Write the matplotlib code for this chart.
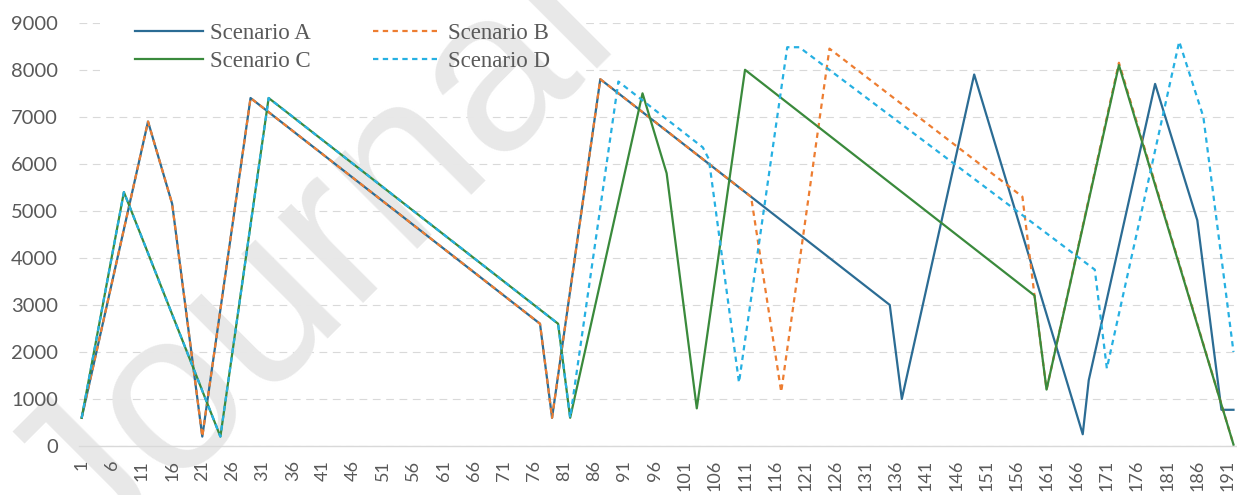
import matplotlib
matplotlib.use("Agg")
import matplotlib.pyplot as plt
from matplotlib.ticker import MultipleLocator
from matplotlib.patches import Rectangle

# breakpoints of each scenario (period, value)
a_x = [1, 12, 16, 21, 29, 77, 79, 87, 135, 137, 149, 167, 168, 179, 186, 190, 192]
a_y = [600, 6900, 5150, 200, 7400, 2600, 600, 7800, 3000, 1000, 7900, 250, 1400, 7700, 4800, 770, 770]

b_x = [1, 12, 16, 21, 29, 77, 79, 87, 112, 117, 125, 157, 159, 161, 173, 192]
b_y = [600, 6900, 5150, 200, 7400, 2600, 600, 7800, 5300, 1150, 8450, 5300, 3200, 1200, 8150, 30]

c_x = [1, 8, 24, 32, 80, 82, 94, 98, 103, 111, 159, 161, 173, 192]
c_y = [600, 5400, 200, 7400, 2600, 600, 7500, 5800, 800, 8000, 3200, 1200, 8100, 30]

d_x = [1, 8, 24, 32, 80, 82, 90, 104, 105, 110, 118, 120, 169, 171, 183, 187, 192]
d_y = [600, 5400, 200, 7400, 2600, 600, 7750, 6350, 6100, 1350, 8480, 8480, 3750, 1650, 8600, 7000, 2000]

n_periods = 192
x_ticks = list(range(1, n_periods + 1, 5))

W, H = 1237, 495
rect = [0.0636, 0.099, 0.9360, 0.855]
fig = plt.figure(figsize=(W / 100, H / 100), dpi=100)

# background layer: dashed grid, with the legend area blanked out
ax_bg = fig.add_axes(rect, zorder=0)
ax_bg.set_xlim(0.5, n_periods + 0.5)
ax_bg.set_ylim(0, 9000)
ax_bg.yaxis.set_major_locator(MultipleLocator(1000))
ax_bg.set_xticks([])
ax_bg.yaxis.grid(True, color="#d9d9d9", lw=0.8, linestyle=(0, (7, 5)))
ax_bg.tick_params(axis="y", length=0, labelleft=False)
for s in ax_bg.spines.values():
    s.set_visible(False)
ax_bg.add_patch(Rectangle((100 / W, 1 - 82 / H), 483 / W, 72 / H, transform=fig.transFigure,
                          facecolor="white", edgecolor="none", zorder=3, clip_on=False))

# main layer
ax = fig.add_axes(rect, zorder=1)
ax.patch.set_visible(False)

# watermark: above grid, below labels and data
ax.text(92 / W, 1 - 575 / H, "Journal Pre-proof", transform=fig.transFigure,
        rotation=45, rotation_mode="anchor", ha="left", va="baseline",
        fontsize=165, family="Liberation Sans", color="#e8e8e8",
        zorder=0.5, clip_on=False)

la, = ax.plot(a_x, a_y, color="#2b6c94", lw=1.6, label="Scenario A", zorder=3)
lb, = ax.plot(b_x, b_y, color="#ed7d31", lw=1.6, dashes=(2.4, 2.0), label="Scenario B", zorder=3)
lc, = ax.plot(c_x, c_y, color="#3a8a3c", lw=1.6, label="Scenario C", zorder=3)
ld, = ax.plot(d_x, d_y, color="#26b0e2", lw=1.6, dashes=(2.4, 2.0), label="Scenario D", zorder=3)

ax.set_xlim(0.5, n_periods + 0.5)
ax.set_ylim(0, 9000)
ax.yaxis.set_major_locator(MultipleLocator(1000))
ax.set_xticks(x_ticks)
ax.set_xticklabels([str(t) for t in x_ticks], rotation=90, va="top")

for s in ["top", "right", "left"]:
    ax.spines[s].set_visible(False)
ax.spines["bottom"].set_color("#d9d9d9")
ax.spines["bottom"].set_linewidth(1.0)

ax.tick_params(axis="both", length=0, colors="#595959")
ax.tick_params(axis="y", pad=15, labelsize=14.5)
ax.tick_params(axis="x", pad=10, labelsize=13)
for lab in ax.get_xticklabels() + ax.get_yticklabels():
    lab.set_family("Lato")

leg = ax.legend(handles=[la, lc, lb, ld], loc="upper left",
                bbox_to_anchor=(126 / W, 1 - 14 / H),
                bbox_transform=fig.transFigure, ncol=2, frameon=False,
                prop={"family": "Liberation Serif", "size": 16.5},
                handlelength=2.97, handletextpad=0.3, columnspacing=2.7,
                labelspacing=0.3, borderpad=0.4, borderaxespad=0)
leg.set_zorder(5)
for t in leg.get_texts():
    t.set_color("#595959")

fig.savefig("out.png", dpi=100)
